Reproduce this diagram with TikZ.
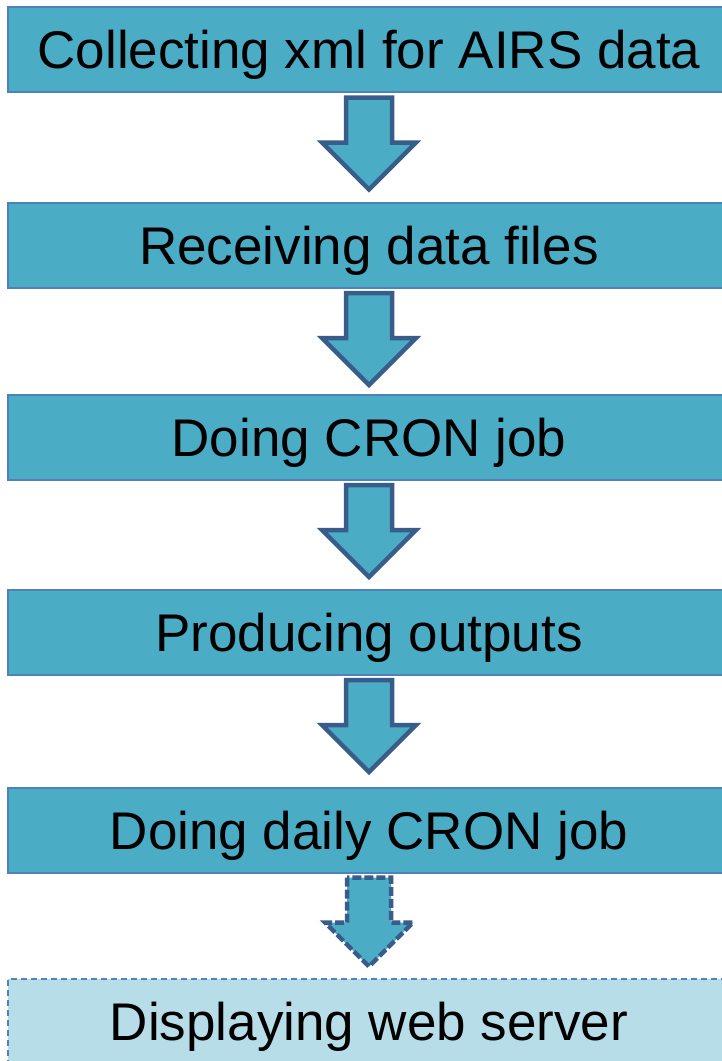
\documentclass[tikz,border=0pt]{standalone}
\usepackage{fontspec}
\setmainfont{Liberation Sans}
\usetikzlibrary{calc}
\definecolor{stepfill}{HTML}{4BACC6}
\definecolor{stepline}{HTML}{4F81BD}
\definecolor{arrowline}{HTML}{385D8A}
\definecolor{lastfill}{HTML}{B7DDE8}
\tikzset{
  stepbox/.style={rectangle, fill=stepfill, draw=stepline, line width=2pt,
    minimum width=722pt, minimum height=85pt, inner sep=0pt,
    text height=38pt, text depth=0pt, font=\fontsize{53}{60}\selectfont},
  lastbox/.style={stepbox, fill=lastfill, line width=1.5pt,
    dash pattern=on 6pt off 4pt},
  downarrow/.style={fill=stepfill, draw=arrowline, line width=4.5pt, line join=miter},
  dashedarrow/.style={downarrow, dash pattern=on 9pt off 3pt}
}
% block arrow hanging below node #1
\newcommand{\blockarrow}[2]{%
  \draw[#2] ($(#1.south)+(-23,4.5)$) -- ++(0,45) -- ++(-24,0) -- ++(47,47)
    -- ++(47,-47) -- ++(-24,0) -- ++(0,-45) -- cycle;}
\begin{document}
\begin{tikzpicture}[x=1pt,y=-1pt]
\useasboundingbox (0,0) rectangle (722,1061);
\clip (0,0) rectangle (722,1061);
\fill[white] (0,0) rectangle (722,1061);
\node[stepbox] (s1) at (369,49.5) {Collecting xml for AIRS data};
\node[stepbox] (s2) at (369,245) {Receiving data files};
\node[stepbox] (s3) at (369,437) {Doing CRON job};
\node[stepbox] (s4) at (369,632) {Producing outputs};
\node[stepbox] (s5) at (369,830) {Doing daily CRON job};
\node[lastbox] (s6) at (369,1021.5) {Displaying web server};
\blockarrow{s1}{downarrow}
\blockarrow{s2}{downarrow}
\blockarrow{s3}{downarrow}
\blockarrow{s4}{downarrow}
\draw[dashedarrow] ($(s5.south)+(-22,4)$) -- ++(0,45) -- ++(-22,0) -- ++(44,44)
    -- ++(44,-44) -- ++(-22,0) -- ++(0,-45) -- cycle;
\end{tikzpicture}
\end{document}
